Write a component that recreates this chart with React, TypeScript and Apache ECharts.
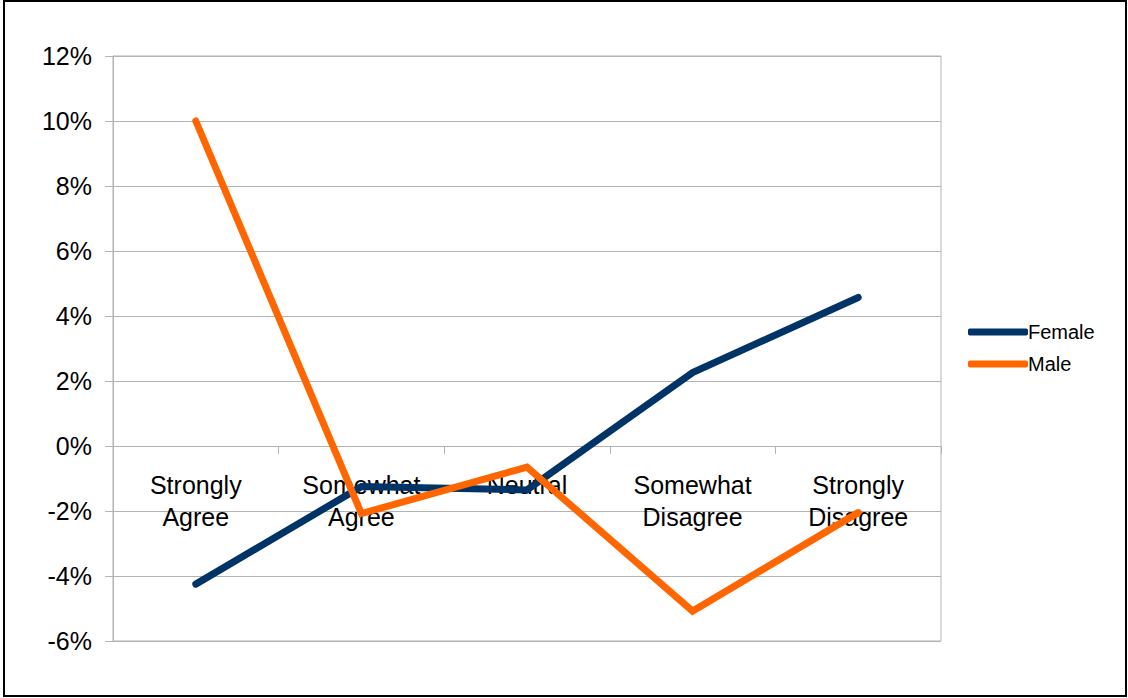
import React, { useEffect, useRef } from "react";
import * as echarts from "echarts";

const categories = [
  "Strongly\nAgree",
  "Somewhat\nAgree",
  "Neutral",
  "Somewhat\nDisagree",
  "Strongly\nDisagree",
];
const female = [-4.25, -1.25, -1.35, 2.26, 4.57];
const male = [10.0, -2.08, -0.65, -5.08, -2.05];
const yTicks = { min: -6, max: 12, interval: 2 };

export default function App() {
  const ref = useRef<HTMLDivElement>(null);
  useEffect(() => {
    if (!ref.current) return;
    const chart = echarts.init(ref.current, undefined, { renderer: "svg" });
    const font = "'Liberation Sans', Arial, sans-serif";
    const gridTop = 56;
    const gridBottom = 641;
    const zeroY =
      gridTop +
      ((yTicks.max - 0) / (yTicks.max - yTicks.min)) * (gridBottom - gridTop);
    chart.setOption({
      animation: false,
      backgroundColor: "#ffffff",
      textStyle: { fontFamily: font },
      graphic: [
        {
          type: "rect",
          shape: { x: 4, y: 1, width: 1122, height: 695 },
          style: { fill: "none", stroke: "#000000", lineWidth: 2 },
          silent: true,
        },
      ],
      grid: {
        left: 113,
        top: gridTop,
        right: 187,
        bottom: 698 - gridBottom,
        outerBoundsMode: "none",
        containLabel: false,
        show: true,
        borderColor: "#b3b3b3",
        borderWidth: 1,
        backgroundColor: "transparent",
      },
      legend: {
        orient: "vertical",
        left: 963,
        top: 316,
        itemWidth: 60,
        itemHeight: 7,
        itemGap: 10,
        icon: "roundRect",
        data: ["Female", "Male"],
        textStyle: {
          fontSize: 20,
          lineHeight: 22,
          color: "#000000",
          fontFamily: font,
          padding: [0, 0, 0, -5],
        },
      },
      xAxis: {
        type: "category",
        data: categories,
        boundaryGap: true,
        position: "bottom",
        offset: -(gridBottom - zeroY),
        axisLine: { onZero: false, lineStyle: { color: "#b3b3b3", width: 1 } },
        axisTick: { show: true, length: 8, lineStyle: { color: "#b3b3b3" } },
        axisLabel: {
          interval: 0,
          fontSize: 25,
          lineHeight: 32,
          color: "#000000",
          margin: 23,
          fontFamily: font,
        },
        splitLine: { show: false },
      },
      yAxis: {
        type: "value",
        min: yTicks.min,
        max: yTicks.max,
        interval: yTicks.interval,
        axisLine: { show: true, lineStyle: { color: "#b3b3b3", width: 1 } },
        axisTick: { show: true, length: 8, lineStyle: { color: "#b3b3b3" } },
        axisLabel: {
          formatter: "{value}%",
          fontSize: 25,
          color: "#000000",
          margin: 21,
          fontFamily: font,
        },
        splitLine: { show: true, lineStyle: { color: "#b3b3b3", width: 1 } },
      },
      series: [
        {
          name: "Female",
          type: "line",
          data: female,
          symbol: "none",
          color: "#003366",
          lineStyle: { width: 7, color: "#003366", cap: "round", join: "miter" },
        },
        {
          name: "Male",
          type: "line",
          data: male,
          symbol: "none",
          color: "#ff6600",
          lineStyle: { width: 7, color: "#ff6600", cap: "round", join: "miter" },
        },
      ],
    });
    return () => chart.dispose();
  }, []);
  return (
    <div
      ref={ref}
      style={{ position: "fixed", left: 0, top: 0, width: 1128, height: 698 }}
    />
  );
}
